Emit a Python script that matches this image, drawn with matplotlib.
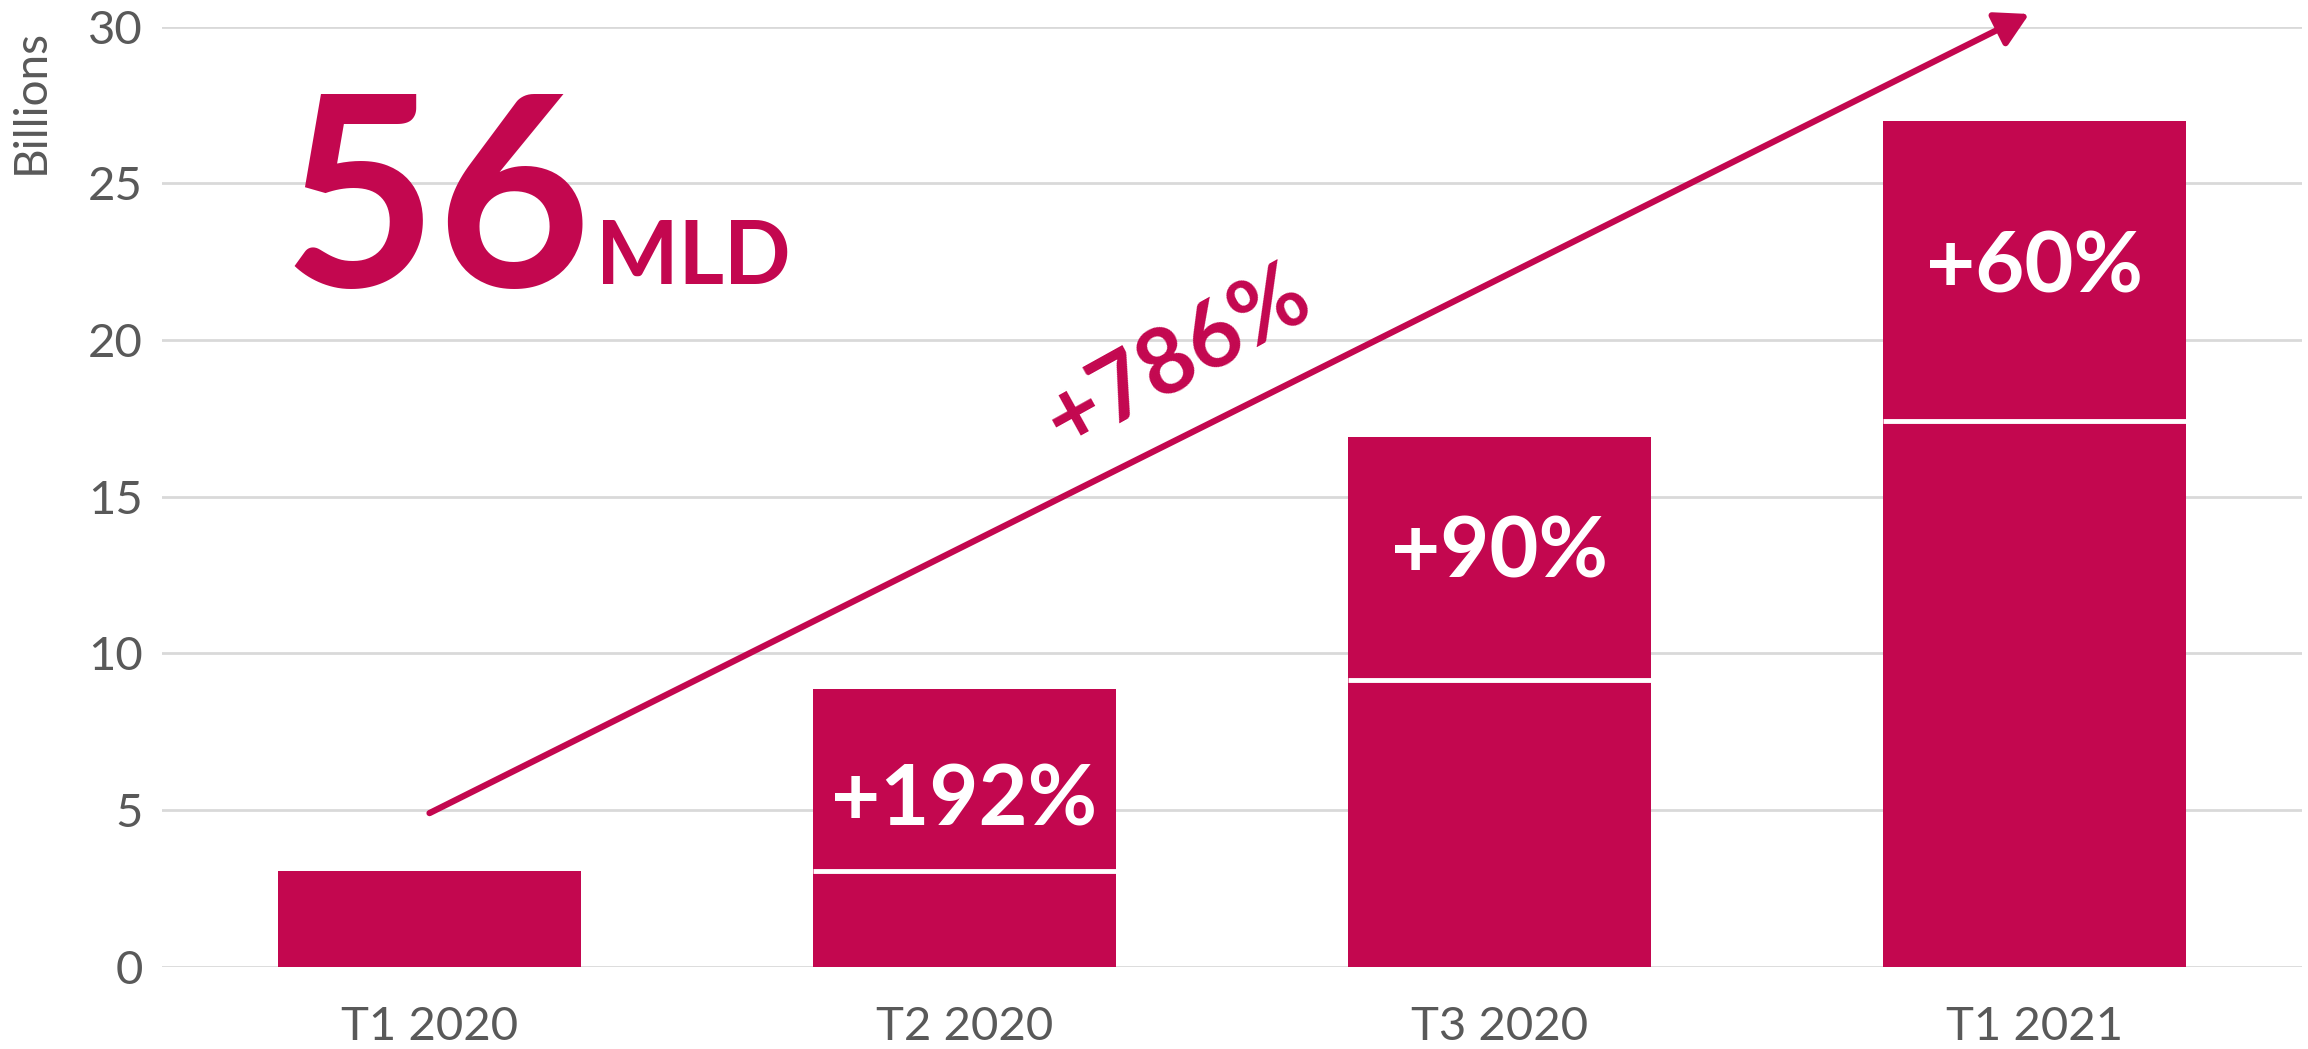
import matplotlib
matplotlib.use('Agg')
import matplotlib.pyplot as plt

categories=['T1 2020','T2 2020','T3 2020','T1 2021']
totals=[3.05,8.85,16.9,27.0]
prev_marks=[None,3.05,9.15,17.4]
growth_labels=[None,'+192%','+90%','+60%']
yticks=[0,5,10,15,20,25,30]
total_value='56'; total_unit='MLD'; overall_growth='+786%'

RED='#C3074F'; GRID='#D9D9D9'; GREY='#595959'
plt.rcParams['font.family']=['Lato','DejaVu Sans']

def main():
    fig=plt.figure(figsize=(23.08,10.49),dpi=100)
    ax=fig.add_axes([0.0702,0.0785,0.9272,0.8962])
    x=list(range(len(categories))); w=0.567
    ax.bar(x,totals,width=w,color=RED,zorder=2)
    for i,m in enumerate(prev_marks):
        if m is not None: ax.hlines(m,i-w/2,i+w/2,color='white',lw=3.5,zorder=3)
    # growth labels sit in the upper segment of each bar
    label_y=[None,5.3,13.2,22.3]
    for i,t in enumerate(growth_labels):
        if t: ax.text(i,label_y[i],t,ha='center',va='center',color='white',fontsize=61,fontweight='bold',zorder=4)
    ax.set_xlim(-0.5,len(categories)-0.5); ax.set_ylim(0,30)
    ax.set_xticks(x); ax.set_xticklabels(categories)
    ax.set_yticks(yticks)
    ax.tick_params(axis='both',length=0,labelsize=34,labelcolor=GREY)
    ax.tick_params(axis='x',pad=28); ax.tick_params(axis='y',pad=14)
    ax.yaxis.grid(True,color=GRID,lw=2,zorder=0); ax.set_axisbelow(True)
    for s in ax.spines.values(): s.set_visible(False)
    fig.text(0.0134,0.972,'Billions',rotation=90,ha='center',va='top',fontsize=33,color=GREY)
    ax.annotate('',xy=(2.99,30.4),xytext=(0,4.9),annotation_clip=False,
                arrowprops=dict(arrowstyle='-|>,head_length=0.5,head_width=0.28',color=RED,lw=4.5,mutation_scale=40,shrinkA=0,shrinkB=0,clip_on=False))
    ax.text(1.40,19.4,overall_growth,rotation=29,ha='center',va='center',color=RED,fontsize=66,fontweight='bold',rotation_mode='anchor')
    ax.text(-0.275,21.7,total_value,ha='left',va='baseline',color=RED,fontsize=192,fontweight='bold')
    ax.text(0.311,21.8,total_unit,ha='left',va='baseline',color=RED,fontsize=63,fontweight='bold')
    fig.savefig('out.png',dpi=100); plt.close(fig)

if __name__=='__main__': main()
